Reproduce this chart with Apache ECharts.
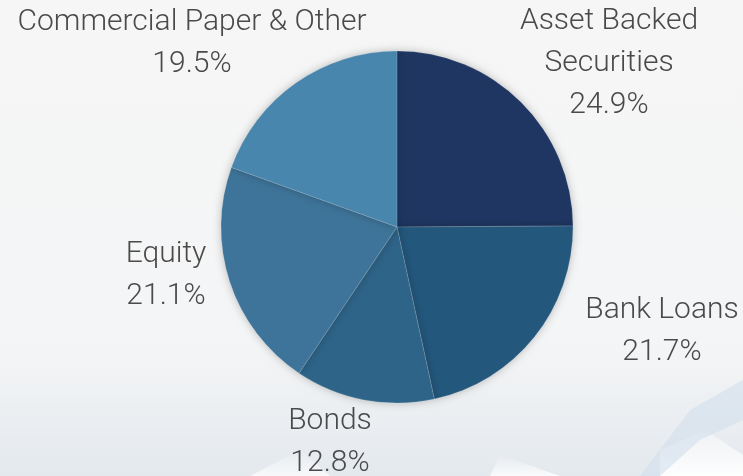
<!DOCTYPE html>
<html>
<head>
<meta charset="utf-8">
<script src="https://cdn.jsdelivr.net/npm/echarts@6/dist/echarts.min.js"></script>
<style>
html,body{margin:0;padding:0;background:#f6f6f6;}
#chart{width:743px;height:476px;}
</style>
</head>
<body>
<div id="chart"></div>
<script>
const categories = ['Asset Backed\nSecurities', 'Bank Loans', 'Bonds', 'Equity', 'Commercial Paper & Other'];
const values = [24.9, 21.7, 12.8, 21.1, 19.5];
const colors = ['#1f3662', '#23577c', '#2e6488', '#3e7499', '#4886ad'];
// label anchor (centre of text block) positions in px
const labelPos = [[609, 63], [662, 331], [330, 442], [166, 275], [192, 43]];

const chart = echarts.init(document.getElementById('chart'));
chart.setOption({
  backgroundColor: {
    type: 'linear', x: 0, y: 0, x2: 0, y2: 1,
    colorStops: [{offset: 0, color: '#f6f6f6'}, {offset: 0.72, color: '#f4f5f6'}, {offset: 1, color: '#e4e9ee'}]
  },
  graphic: [
    {type: 'polygon', silent: true, z: -1, shape: {points: [[250, 476], [300, 450], [330, 476]]},
     style: {fill: {type: 'linear', x: 0, y: 0, x2: 0, y2: 1, colorStops: [{offset: 0, color: 'rgba(255,255,255,0)'}, {offset: 1, color: 'rgba(255,255,255,0.7)'}]}}},
    {type: 'polygon', silent: true, z: -1, shape: {points: [[490, 476], [500, 455], [560, 476]]},
     style: {fill: {type: 'linear', x: 0, y: 0, x2: 0, y2: 1, colorStops: [{offset: 0, color: 'rgba(255,255,255,0)'}, {offset: 1, color: 'rgba(255,255,255,0.8)'}]}}},
    {type: 'polygon', silent: true, z: -1, shape: {points: [[660, 476], [660, 450], [705, 430], [743, 455], [743, 476]]},
     style: {fill: {type: 'linear', x: 0, y: 0, x2: 0, y2: 1, colorStops: [{offset: 0, color: 'rgba(255,255,255,0.3)'}, {offset: 1, color: 'rgba(255,255,255,0.95)'}]}}},
    {type: 'polygon', silent: true, z: -1, shape: {points: [[640, 476], [690, 410], [743, 380], [743, 420], [700, 440], [660, 476]]},
     style: {fill: 'rgba(210,224,236,0.6)'}}
  ],
  series: [{
    type: 'pie',
    center: [397, 227],
    radius: 176,
    startAngle: 90,
    clockwise: true,
    animation: false,
    data: categories.map((c, i) => ({name: c, value: values[i], itemStyle: {color: colors[i]}})),
    itemStyle: {
      borderColor: 'rgba(255,255,255,0.25)', borderWidth: 0.6,
      shadowBlur: 8, shadowColor: 'rgba(0,0,0,0.25)'
    },
    label: {
      show: true, position: 'outside',
      formatter: p => p.name + '\n' + p.value.toFixed(1) + '%',
      fontFamily: 'Roboto', fontWeight: 300, fontSize: 30, lineHeight: 42,
      color: '#4a4a4a', align: 'center', width: 500, overflow: 'none'
    },
    labelLine: {show: false},
    labelLayout: function (params) {
      const p = labelPos[params.dataIndex];
      return {x: p[0], y: p[1], align: 'center', verticalAlign: 'middle'};
    }
  }]
});
</script>
</body>
</html>
